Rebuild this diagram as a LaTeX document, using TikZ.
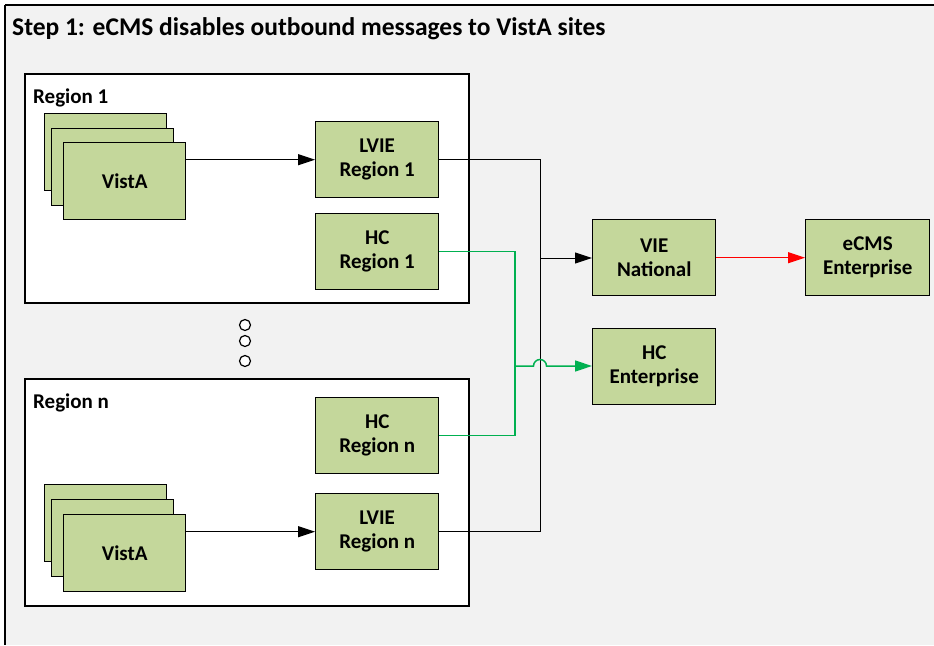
\documentclass[tikz,border=0pt]{standalone}
\usepackage{fontspec}
\setmainfont{Carlito}
\usetikzlibrary{arrows.meta}
\definecolor{boxfill}{HTML}{C4D79B}
\definecolor{bggray}{HTML}{F2F2F2}
\definecolor{hcgreen}{HTML}{00B050}
\tikzset{
  box/.style={draw=black, line width=1.4pt, fill=boxfill, minimum width=123pt, minimum height=76pt, anchor=north west, align=center, font=\bfseries\fontsize{21}{24}\selectfont, inner sep=0pt},
  stackbox/.style={draw=black, line width=1.4pt, fill=boxfill, minimum width=122pt, minimum height=77pt, anchor=north west, font=\bfseries\fontsize{21}{24}\selectfont, inner sep=0pt},
  regionbox/.style={draw=black, line width=1.3pt, fill=white},
  regionlabel/.style={anchor=west, font=\bfseries\fontsize{21}{24}\selectfont, inner sep=0pt},
  conn/.style={draw=black, line width=1pt},
  gconn/.style={draw=hcgreen, line width=1.5pt},
  rconn/.style={draw=red, line width=1.2pt},
  tip/.style={-{Triangle[length=17pt,width=11pt]}},
  dot/.style={circle, draw=black, line width=1.2pt, fill=white, minimum size=11pt, inner sep=0pt}
}
\begin{document}
\begin{tikzpicture}[x=1pt,y=-1pt]
\useasboundingbox (0,0) rectangle (934,645);
\fill[white] (0,0) rectangle (934,645);
\fill[bggray] (5,5) rectangle (934,645);
\draw[black, line width=2pt] (5,5) -- (934,5);
\draw[black, line width=1.5pt] (5,5) -- (5,645);

\node[anchor=west, inner sep=0pt, font=\bfseries\fontsize{25.5}{28}\selectfont] (title) at (12,29) {Step 1: eCMS disables outbound messages to VistA sites};

% Region 1
\path[regionbox] (25,74) rectangle (469,303);
\node[regionlabel] (r1label) at (33,98) {Region 1};
\node[stackbox] (va1c) at (44,113) {};
\node[stackbox] (va1b) at (51,128) {};
\node[stackbox] (va1a) at (63,142) {VistA};
\node[box] (lvie1) at (315,121) {LVIE\\Region 1};
\node[box] (hc1) at (315,213) {HC\\Region 1};

% ellipsis
\node[dot] (d1) at (245,325) {};
\node[dot] (d2) at (245,341) {};
\node[dot] (d3) at (245,361) {};

% Region n
\path[regionbox] (25,379) rectangle (469,606);
\node[regionlabel] (rnlabel) at (33,403) {Region n};
\node[box] (hcn) at (315,397) {HC\\Region n};
\node[stackbox] (vanc) at (44,484) {};
\node[stackbox] (vanb) at (51,499) {};
\node[stackbox] (vana) at (63,514) {VistA};
\node[box] (lvien) at (315,493) {LVIE\\Region n};

% right side
\node[box] (vie) at (592,219) {VIE\\National};
\node[box] (hce) at (592,328) {HC\\Enterprise};
\node[box, minimum width=124pt] (ecms) at (805,219) {eCMS\\Enterprise};

% connectors
\draw[conn, tip] (va1a.east |- lvie1.west) -- (lvie1.west);
\draw[conn, tip] (vana.east |- lvien.west) -- (lvien.west);

\coordinate (bj) at (540,258);
\draw[conn] (lvie1.east) -| (bj);
\draw[conn] (lvien.east) -| (bj);
\draw[conn, tip] (bj) -- (bj -| vie.west);

\coordinate (gj) at (515,366);
\coordinate (hopa) at (533.5,366);
\draw[gconn] (hc1.east) -| (gj);
\draw[gconn] (hcn.east) -| (gj);
\draw[gconn, tip] (gj) -- (hopa) arc[start angle=180, end angle=360, radius=6.5] -- (hopa -| hce.west);

\draw[rconn, tip] (vie.east) -- (ecms.west);
\end{tikzpicture}
\end{document}
